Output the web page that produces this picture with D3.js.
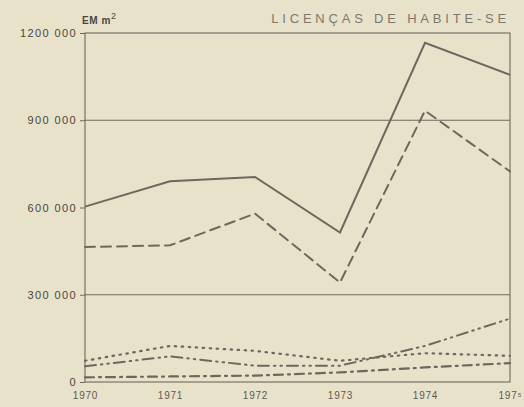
<!DOCTYPE html>
<html>
<head>
<meta charset="utf-8">
<script src="https://cdn.jsdelivr.net/npm/d3@7"></script>
<style>
  body { margin: 0; background: #e9e2cb; }
  svg { display: block; font-family: "Liberation Sans", "DejaVu Sans", sans-serif; }
</style>
</head>
<body>
<div id="chart"></div>
<script>
// years on the x axis
var years = [1970, 1971, 1972, 1973, 1974, 1975];
var yearLabels = ["1970", "1971", "1972", "1973", "1974", "197\u2075"];

// values in m2
var total = [603000, 690000, 705000, 514000, 1166000, 1056000];
var dashed = [464000, 470000, 579000, 342000, 933000, 724000];
var dotted = [73000, 124000, 107000, 73000, 99000, 90000];
var dashDotDot = [54000, 88000, 56000, 56000, 124000, 218000];
var dashDot = [16000, 19000, 22000, 33000, 50000, 65000];

var yTicks = [0, 300000, 600000, 900000, 1200000];
var yTickLabels = ["0", "300 000", "600 000", "900 000", "1200 000"];
var gridValues = [300000, 900000];

(function() {
    var width = 524;
    var height = 407;
    var ink = "#6d685e";

    var svg = d3.select("#chart")
        .append("svg")
        .attr("width", width)
        .attr("height", height);

    var x = d3.scalePoint()
        .domain(years)
        .range([85, 510]);

    var y = d3.scaleLinear()
        .domain([0, 1200000])
        .range([382, 33]);

    // frame of the plot
    svg.append("rect")
        .attr("x", x(1970))
        .attr("y", y(1200000))
        .attr("width", x(1975) - x(1970))
        .attr("height", y(0) - y(1200000))
        .attr("fill", "none")
        .attr("stroke", ink)
        .attr("stroke-width", 1.1);

    // horizontal rules
    svg.append("g")
        .selectAll("line")
        .data(gridValues)
        .join("line")
            .attr("x1", x(1970))
            .attr("x2", x(1975))
            .attr("y1", d => y(d))
            .attr("y2", d => y(d))
            .attr("stroke", ink)
            .attr("stroke-width", 1.1);

    // y axis
    var yAxis = svg.append("g")
        .attr("transform", `translate(${x(1970)}, 0)`)
        .call(d3.axisLeft(y)
            .tickValues(yTicks)
            .tickFormat((d, i) => yTickLabels[i])
            .tickSize(5)
            .tickPadding(3));
    yAxis.select(".domain").remove();
    yAxis.selectAll("line").attr("stroke", ink);
    yAxis.selectAll("text")
        .attr("fill", "#4a463f")
        .attr("font-size", "11px")
        .attr("letter-spacing", "1.4px");

    // x axis labels
    var xAxis = svg.append("g")
        .attr("transform", `translate(0, ${y(0)})`)
        .call(d3.axisBottom(x)
            .tickFormat((d, i) => yearLabels[i])
            .tickSize(0)
            .tickPadding(10));
    xAxis.select(".domain").remove();
    xAxis.selectAll("text")
        .attr("fill", "#5e594f")
        .attr("font-size", "10px")
        .attr("letter-spacing", "0.8px");

    // series lines
    var series = [
        {values: total, dash: null, width: 2},
        {values: dashed, dash: "10,6", width: 2},
        {values: dotted, dash: "1.5,5.5", width: 2.2},
        {values: dashDotDot, dash: "11,5,1.5,5,1.5,5", width: 2},
        {values: dashDot, dash: "9,5,2,5", width: 2.2}
    ];

    var line = d3.line()
        .x((d, i) => x(years[i]))
        .y(d => y(d));

    svg.append("g")
        .selectAll("path")
        .data(series)
        .join("path")
            .attr("d", d => line(d.values))
            .attr("fill", "none")
            .attr("stroke", ink)
            .attr("stroke-width", d => d.width)
            .attr("stroke-linecap", d => d.dash ? "round" : "butt")
            .attr("stroke-dasharray", d => d.dash);

    // unit label
    var unit = svg.append("text")
        .attr("x", 82)
        .attr("y", 24)
        .attr("fill", "#4a463f")
        .attr("font-size", "10px")
        .attr("font-weight", "bold")
        .attr("letter-spacing", "0.6px")
        .text("EM m");
    unit.append("tspan")
        .attr("dy", -5)
        .attr("font-size", "9px")
        .attr("font-weight", "normal")
        .text("2");

    // title
    svg.append("text")
        .attr("x", 510)
        .attr("y", 23)
        .attr("text-anchor", "end")
        .attr("fill", "#7c776d")
        .attr("font-size", "13px")
        .attr("letter-spacing", "3.8px")
        .text("LICENÇAS DE HABITE-SE");
})();
</script>
</body>
</html>
